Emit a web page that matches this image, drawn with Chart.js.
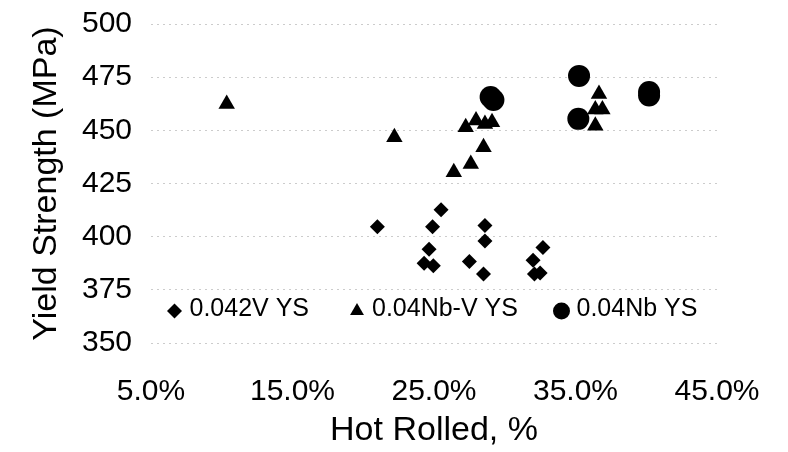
<!DOCTYPE html>
<html>
<head>
  <meta charset="UTF-8">
  <title>Yield Strength vs Hot Rolled</title>
  <script src="https://cdn.jsdelivr.net/npm/chart.js"></script>
  <style>
    html, body { margin: 0; padding: 0; background: #fff; }
    #wrap { width: 788px; height: 452px; }
  </style>
</head>
<body>
  <div id="wrap"><canvas id="ysChart" width="788" height="452"></canvas></div>

  <script>
    // data (x = hot rolled %, y = MPa)
    const vX  = [21.0, 25.5, 24.9, 24.65, 24.3, 24.95, 28.6, 28.6, 27.5, 28.5, 32.7, 32.0, 32.1, 32.5];
    const vY  = [404.7, 412.6, 404.7, 394.1, 387.5, 386.3, 405.2, 398.0, 388.3, 382.4, 394.9, 388.9, 382.4, 382.9];

    const nbvX = [10.35, 22.2, 36.66, 36.4, 36.9, 36.4, 27.24, 27.97, 28.6, 29.1, 28.5, 27.6, 26.4];
    const nbvY = [462.4, 446.7, 467.1, 459.8, 459.8, 452.2, 451.4, 454.6, 453.0, 453.8, 442.0, 434.2, 430.3];

    const nbX = [35.25, 35.2, 40.2, 40.2, 29.0, 29.2];
    const nbY = [475.6, 455.4, 468.0, 466.4, 465.7, 464.3];

    const seriesNames = ['0.042V YS', '0.04Nb-V YS', '0.04Nb YS'];
    const xTicks = [5, 15, 25, 35, 45];
    const yTicks = [350, 375, 400, 425, 450, 475, 500];

    const pts = (xs, ys) => xs.map((x, i) => ({ x: x, y: ys[i] }));

    const FONT = "'Liberation Sans', Arial, sans-serif";

    // legend drawn inside the plot, like the original
    const legendItems = [
      { name: seriesNames[0], style: 'rectRot', r: 7.5, off: 23.5 },
      { name: seriesNames[1], style: 'triangle', r: 8, off: 206 },
      { name: seriesNames[2], style: 'circle', r: 8.5, off: 410.5 }
    ];
    const legendValue = 365;

    const insideLegend = {
      id: 'insideLegend',
      afterDatasetsDraw(chart) {
        const ctx = chart.ctx;
        const left = chart.chartArea.left;
        const y = chart.scales.y.getPixelForValue(legendValue);
        ctx.save();
        ctx.fillStyle = '#000';
        ctx.font = '25px ' + FONT;
        ctx.textBaseline = 'middle';
        ctx.textAlign = 'left';
        legendItems.forEach(it => {
          const cx = left + it.off;
          Chart.helpers.drawPoint(ctx, { pointStyle: it.style, radius: it.r, rotation: 0, borderWidth: 0 }, cx, y);
          ctx.fillText(it.name, cx + 15, y - 2);
        });
        ctx.restore();
      }
    };

    new Chart(document.getElementById('ysChart'), {
      type: 'scatter',
      data: {
        datasets: [
          { label: seriesNames[0], data: pts(vX, vY), pointStyle: 'rectRot', pointRadius: 7.5,
            backgroundColor: '#000', borderColor: '#000', borderWidth: 0 },
          { label: seriesNames[1], data: pts(nbvX, nbvY), pointStyle: 'triangle', pointRadius: 9.5,
            backgroundColor: '#000', borderColor: '#000', borderWidth: 0 },
          { label: seriesNames[2], data: pts(nbX, nbY), pointStyle: 'circle', pointRadius: 11,
            backgroundColor: '#000', borderColor: '#000', borderWidth: 0 }
        ]
      },
      options: {
        responsive: false,
        animation: false,
        events: [],
        layout: { padding: { left: 0, right: 71, top: 24, bottom: 0 } },
        plugins: {
          legend: { display: false },
          tooltip: { enabled: false }
        },
        scales: {
          x: {
            type: 'linear',
            min: xTicks[0],
            max: xTicks[xTicks.length - 1],
            afterBuildTicks: s => { s.ticks = xTicks.map(v => ({ value: v })); },
            afterFit: s => { s.height = 109; s.paddingLeft = 0; s.paddingRight = 0; },
            grid: { display: false, drawTicks: false },
            border: { display: false },
            ticks: {
              color: '#000',
              padding: 31,
              font: { family: FONT, size: 30 },
              callback: v => v.toFixed(1) + '%'
            },
            title: {
              display: true,
              text: 'Hot Rolled, %',
              color: '#000',
              font: { family: FONT, size: 34 },
              padding: { top: 0, bottom: 1 }
            }
          },
          y: {
            min: yTicks[0],
            max: yTicks[yTicks.length - 1],
            afterBuildTicks: s => { s.ticks = yTicks.map(v => ({ value: v })); },
            afterFit: s => { s.width = 151; s.paddingTop = 0; s.paddingBottom = 0; },
            grid: { color: 'rgba(0,0,0,0.2)', lineWidth: 1, drawTicks: false },
            border: { display: false, dash: [2, 4] },
            ticks: {
              color: '#000',
              padding: 19,
              font: { family: FONT, size: 30 }
            },
            title: {
              display: true,
              text: 'Yield Strength (MPa)',
              color: '#000',
              font: { family: FONT, size: 34 },
              padding: { top: 26, bottom: 0 }
            }
          }
        }
      },
      plugins: [insideLegend]
    });
  </script>
</body>
</html>
